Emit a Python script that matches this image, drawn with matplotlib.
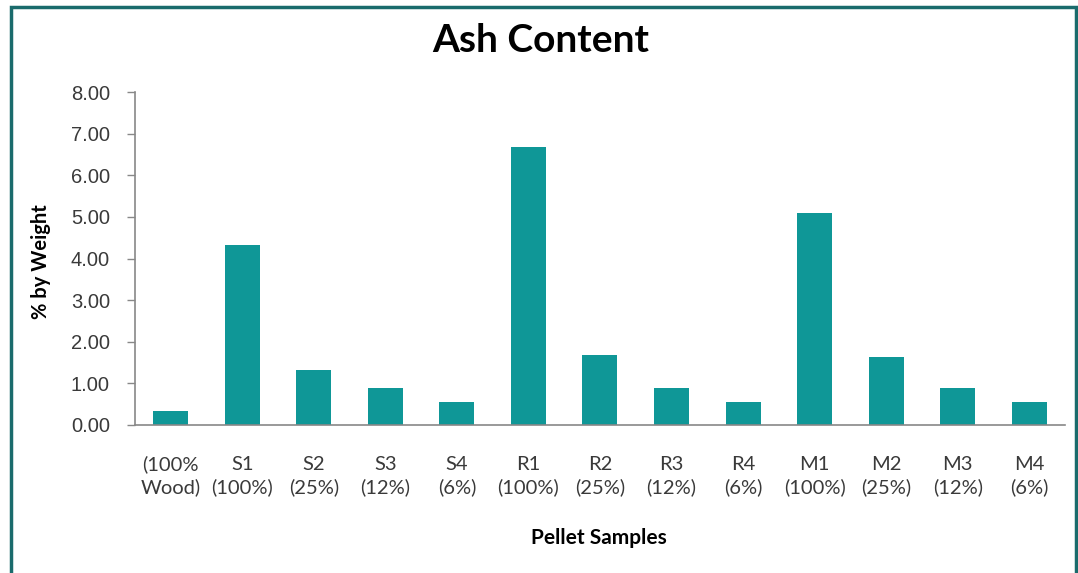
import matplotlib.pyplot as plt
from matplotlib.patches import Rectangle

# sample names and ash content (% by weight)
samples = ["(100%\nWood)", "S1\n(100%)", "S2\n(25%)", "S3\n(12%)", "S4\n(6%)",
           "R1\n(100%)", "R2\n(25%)", "R3\n(12%)", "R4\n(6%)",
           "M1\n(100%)", "M2\n(25%)", "M3\n(12%)", "M4\n(6%)"]
ash = [0.34, 4.32, 1.32, 0.90, 0.55, 6.67, 1.68, 0.90, 0.56, 5.09, 1.64, 0.90, 0.56]
yticks = [0, 1, 2, 3, 4, 5, 6, 7, 8]

bar_color = "#0f9797"
frame_color = "#1a6b6c"
title_font = ["Lato", "DejaVu Sans"]

fig = plt.figure(figsize=(10.78, 5.73), dpi=100)
ax = fig.add_axes([0.1252, 0.2583, 0.8627, 0.5811])

x = range(len(samples))
ax.bar(x, ash, width=0.49, color=bar_color)

ax.set_xlim(-0.5, len(samples) - 0.5)
ax.set_ylim(0, 8)
ax.set_yticks(yticks)
ax.set_yticklabels([f"{v:.2f}" for v in yticks], fontsize=14.5,
                   family=["Liberation Sans"], color="#3a3a3a")
ax.set_xticks(list(x))
ax.set_xticklabels(samples, fontsize=14.5, family=title_font, color="#3a3a3a",
                   linespacing=1.35)
ax.tick_params(axis="x", length=0, pad=22)
ax.tick_params(axis="y", length=6, width=1, color="#888888", pad=12)

for side in ["top", "right"]:
    ax.spines[side].set_visible(False)
for side in ["left", "bottom"]:
    ax.spines[side].set_color("#888888")
    ax.spines[side].set_linewidth(1.2)

fig.text(0.502, 0.930, "Ash Content", ha="center", va="center",
         fontsize=28, fontweight="bold", family=title_font)
fig.text(0.038, 0.543, "% by Weight", ha="center", va="center", rotation=90,
         fontsize=14.5, fontweight="bold", family=title_font)
fig.text(0.556, 0.061, "Pellet Samples", ha="center", va="center",
         fontsize=15, fontweight="bold", family=title_font)

# teal frame around the chart
fig.patches.append(Rectangle((0.0105, -0.02), 0.9875, 1.0075,
                             transform=fig.transFigure, fill=False,
                             edgecolor=frame_color, linewidth=2.5))

fig.savefig("out.png", dpi=100, facecolor="white")
